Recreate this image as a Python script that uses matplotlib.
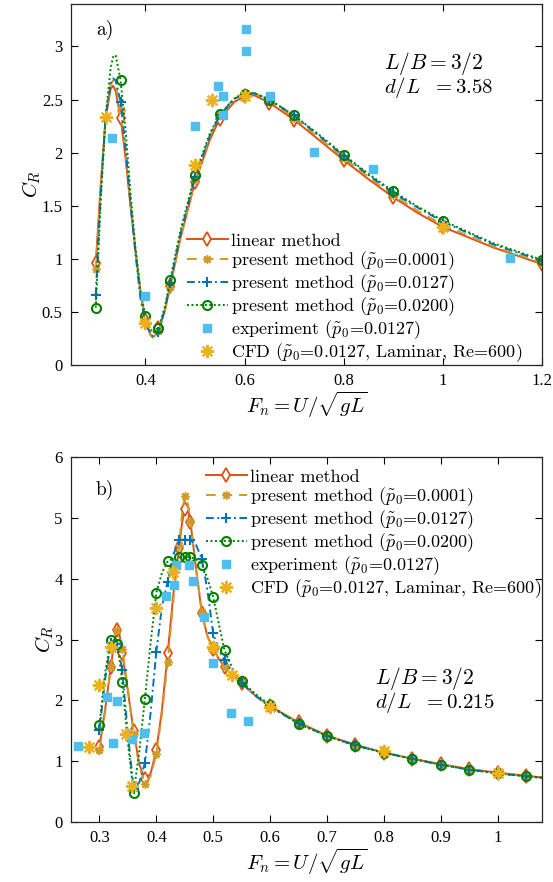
import numpy as np
import matplotlib
matplotlib.use("Agg")
import matplotlib.pyplot as plt
from matplotlib.ticker import FuncFormatter

plt.rcParams['mathtext.fontset'] = 'cm'
plt.rcParams['font.family'] = ['cmr10', 'DejaVu Serif']
plt.rcParams['axes.formatter.use_mathtext'] = True

# ---------------- panel a): d/L = 3.58 ----------------
xa = [0.30, 0.31, 0.32, 0.33, 0.335, 0.34, 0.35, 0.36, 0.37, 0.38, 0.39, 0.40,
      0.41, 0.415, 0.42, 0.425, 0.43, 0.44, 0.45, 0.47, 0.50, 0.53, 0.55, 0.58,
      0.60, 0.62, 0.65, 0.70, 0.75, 0.80, 0.85, 0.90, 0.95, 1.00, 1.10, 1.20]
a_linear = [0.96, 1.70, 2.33, 2.60, 2.63, 2.58, 2.33, 1.95, 1.50, 1.08, 0.70, 0.42,
            0.29, 0.26, 0.28, 0.35, 0.37, 0.53, 0.74, 1.18, 1.72, 2.12, 2.32, 2.48,
            2.53, 2.54, 2.47, 2.31, 2.12, 1.93, 1.75, 1.58, 1.43, 1.30, 1.11, 0.95]
a_p0001 = [0.90, 1.68, 2.35, 2.64, 2.68, 2.64, 2.40, 2.00, 1.52, 1.08, 0.68, 0.40,
           0.28, 0.26, 0.28, 0.32, 0.37, 0.52, 0.73, 1.18, 1.74, 2.15, 2.35, 2.52,
           2.56, 2.56, 2.49, 2.33, 2.14, 1.95, 1.77, 1.60, 1.45, 1.32, 1.12, 0.96]
a_p0127 = [0.66, 1.62, 2.35, 2.65, 2.70, 2.68, 2.48, 2.05, 1.52, 1.05, 0.63, 0.40,
           0.30, 0.27, 0.28, 0.31, 0.36, 0.54, 0.77, 1.22, 1.77, 2.16, 2.35, 2.51,
           2.55, 2.56, 2.50, 2.35, 2.16, 1.97, 1.79, 1.62, 1.48, 1.35, 1.14, 0.98]
a_p0200 = [0.54, 1.55, 2.35, 2.80, 2.90, 2.92, 2.68, 2.22, 1.62, 1.10, 0.70, 0.46,
           0.34, 0.31, 0.31, 0.35, 0.40, 0.56, 0.80, 1.25, 1.79, 2.18, 2.36, 2.51,
           2.55, 2.56, 2.50, 2.35, 2.17, 1.98, 1.80, 1.635, 1.49, 1.36, 1.15, 0.99]
a_marks = [0.30, 0.35, 0.40, 0.425, 0.45, 0.50, 0.55, 0.60, 0.65, 0.70, 0.80,
           0.90, 1.00, 1.20]
a_exp_x = [0.332, 0.400, 0.500, 0.546, 0.556, 0.556, 0.603, 0.603, 0.652, 0.741,
           0.859, 1.135]
a_exp_y = [2.14, 0.65, 2.25, 2.63, 2.53, 2.35, 3.16, 2.96, 2.53, 2.01, 1.85, 1.01]
a_cfd_x = [0.320, 0.400, 0.500, 0.534, 0.600, 1.000]
a_cfd_y = [2.34, 0.40, 1.88, 2.50, 2.53, 1.30]

# ---------------- panel b): d/L = 0.215 ----------------
xb = [0.30, 0.31, 0.32, 0.325, 0.33, 0.335, 0.34, 0.35, 0.36, 0.37, 0.38, 0.39,
      0.40, 0.41, 0.42, 0.43, 0.44, 0.445, 0.45, 0.455, 0.46, 0.47, 0.48, 0.49,
      0.50, 0.51, 0.52, 0.535, 0.55, 0.575, 0.60, 0.65, 0.70, 0.75, 0.80, 0.85,
      0.90, 0.95, 1.00, 1.05, 1.10]
b_linear = [1.23, 1.85, 2.55, 2.90, 3.15, 3.10, 2.78, 2.15, 1.50, 0.95, 0.70, 0.80,
            1.18, 1.85, 2.77, 3.75, 4.50, 4.90, 5.15, 5.17, 4.93, 4.15, 3.43, 3.05,
            2.85, 2.68, 2.55, 2.40, 2.28, 2.07, 1.90, 1.64, 1.42, 1.27, 1.14, 1.04,
            0.95, 0.87, 0.81, 0.76, 0.71]
b_p0001 = [1.18, 1.80, 2.55, 2.92, 3.16, 3.12, 2.85, 2.20, 1.45, 0.92, 0.63, 0.75,
           1.12, 1.78, 2.63, 3.65, 4.55, 5.05, 5.36, 5.25, 4.95, 4.15, 3.45, 3.05,
           2.85, 2.68, 2.55, 2.40, 2.28, 2.08, 1.90, 1.64, 1.42, 1.26, 1.14, 1.04,
           0.95, 0.87, 0.81, 0.76, 0.71]
b_p0127 = [1.51, 2.35, 2.95, 3.02, 2.92, 2.75, 2.50, 1.45, 0.55, 0.65, 0.97, 1.80,
           2.80, 3.55, 3.95, 4.40, 4.63, 4.64, 4.64, 4.64, 4.63, 4.55, 4.33, 3.80,
           3.10, 2.82, 2.66, 2.45, 2.28, 2.07, 1.89, 1.62, 1.42, 1.26, 1.14, 1.04,
           0.94, 0.86, 0.80, 0.75, 0.71]
b_p0200 = [1.60, 2.45, 3.00, 3.02, 2.93, 2.70, 2.30, 1.30, 0.48, 1.15, 2.03, 2.95,
           3.77, 4.10, 4.29, 4.33, 4.35, 4.36, 4.36, 4.36, 4.35, 4.32, 4.23, 4.00,
           3.70, 3.25, 2.82, 2.50, 2.31, 2.10, 1.92, 1.61, 1.415, 1.25, 1.14, 1.04,
           0.94, 0.86, 0.80, 0.75, 0.71]
b_marks = [0.30, 0.32, 0.33, 0.34, 0.36, 0.38, 0.40, 0.42, 0.44, 0.45, 0.46, 0.48,
           0.50, 0.52, 0.55, 0.60, 0.65, 0.70, 0.75, 0.80, 0.85, 0.90, 0.95, 1.00,
           1.05]
b_exp_x = [0.263, 0.314, 0.324, 0.331, 0.357, 0.379, 0.417, 0.431, 0.435, 0.458,
           0.464, 0.483, 0.499, 0.531, 0.562]
b_exp_y = [1.245, 2.06, 1.30, 1.99, 1.37, 1.46, 3.71, 3.90, 4.22, 4.22, 3.96,
           3.37, 2.62, 1.80, 1.66]
b_cfd_x = [0.281, 0.300, 0.320, 0.346, 0.357, 0.399, 0.429, 0.499, 0.533, 0.600,
           0.800, 1.000]
b_cfd_y = [1.23, 2.26, 2.87, 1.44, 0.59, 3.52, 4.11, 2.88, 2.41, 1.89, 1.17, 0.81]

labels = ['linear method',
          r'present method ($\tilde{p}_0$=0.0001)',
          r'present method ($\tilde{p}_0$=0.0127)',
          r'present method ($\tilde{p}_0$=0.0200)',
          r'experiment ($\tilde{p}_0$=0.0127)',
          r'CFD ($\tilde{p}_0$=0.0127, Laminar, Re=600)']

C_LIN = '#D95319'
C_P1 = '#D09A25'
C_P2 = '#0072BD'
C_P3 = '#008000'
C_EXP = '#4DBEEE'
C_CFD = '#EDB120'
ASTER = (8, 2, 0)

W, H = 553, 882
fig = plt.figure(figsize=(W / 100, H / 100), dpi=100)


def fig_box(l, t, r, b):
    return [l / W, 1 - b / H, (r - l) / W, (b - t) / H]


def mark_index(x, marks):
    x = np.asarray(x)
    return [int(np.argmin(np.abs(x - m))) for m in marks]


def draw_panel(ax, x, series, marks, ex, ey, cx, cy):
    idx = mark_index(x, marks)
    lin, p1, p2, p3 = series
    h = []
    h += ax.plot(x, lin, color=C_LIN, lw=1.4, marker='d', ms=7, mfc='white',
                 mew=1.3, markevery=idx)
    h += ax.plot(x, p1, color=C_P1, lw=1.4, ls=(0, (5, 3.5)), marker=ASTER, ms=6,
                 mew=1.1, markevery=idx)
    h += ax.plot(x, p2, color=C_P2, lw=1.4, ls=(0, (4, 1.8, 1, 1.8)), marker='+',
                 ms=7, mew=1.5, markevery=idx)
    h += ax.plot(x, p3, color=C_P3, lw=1.4, ls=(0, (1, 1.3)), marker='o', ms=6.5,
                 mfc='none', mew=1.5, markevery=idx)
    h += ax.plot(ex, ey, ls='none', marker='s', ms=6, color=C_EXP, mec=C_EXP)
    h += ax.plot(cx, cy, ls='none', marker=ASTER, ms=9.5, mew=1.5, color=C_CFD)
    ax.tick_params(direction='in', top=True, right=True, length=5, width=0.8,
                   labelsize=12, labelfontfamily='Liberation Serif', pad=6)
    for s in ax.spines.values():
        s.set_linewidth(0.9)
        s.set_color('#262626')
    ax.yaxis.set_major_formatter(FuncFormatter(lambda v, p: f'{v:g}'))
    ax.xaxis.set_major_formatter(FuncFormatter(lambda v, p: f'{v:g}'))
    ax.set_xlabel(r'$F_n = U/\sqrt{gL}$', fontsize=15, labelpad=0)
    ax.set_ylabel(r'$C_R$', fontsize=15, labelpad=-1)
    return h


def add_legend(ax, h, x_px, y_px):
    ax.legend(h, labels, loc='upper left', bbox_to_anchor=(x_px / W, 1 - y_px / H),
              bbox_transform=fig.transFigure, frameon=False, fontsize=13,
              handlelength=2.25, handletextpad=0.2, labelspacing=0.02,
              borderpad=0, borderaxespad=0, numpoints=1)


# panel a
ax1 = fig.add_axes(fig_box(71, 4, 542, 365))
h1 = draw_panel(ax1, xa, (a_linear, a_p0001, a_p0127, a_p0200), a_marks,
                a_exp_x, a_exp_y, a_cfd_x, a_cfd_y)
ax1.set_xlim(0.25, 1.2)
ax1.set_ylim(0, 3.4)
ax1.set_xticks([0.4, 0.6, 0.8, 1.0, 1.2])
ax1.set_yticks([0, 0.5, 1, 1.5, 2, 2.5, 3])
add_legend(ax1, h1, 187, 233)
fig.text(96 / W, 1 - 30 / H, 'a)', fontsize=14, va='center', ha='left')
ax1.text(0.664, 0.835, r'$L/B = 3/2$', transform=ax1.transAxes, fontsize=15.5,
         ha='left', va='center')
ax1.text(0.664, 0.768, r'$d/L\ \ = 3.58$', transform=ax1.transAxes, fontsize=15,
         ha='left', va='center')

# panel b
ax2 = fig.add_axes(fig_box(71, 457, 542, 822))
h2 = draw_panel(ax2, xb, (b_linear, b_p0001, b_p0127, b_p0200), b_marks,
                b_exp_x, b_exp_y, b_cfd_x, b_cfd_y)
ax2.set_xlim(0.25, 1.078)
ax2.set_ylim(0, 6)
ax2.set_xticks([0.3, 0.4, 0.5, 0.6, 0.7, 0.8, 0.9, 1.0])
ax2.set_yticks([0, 1, 2, 3, 4, 5, 6])
add_legend(ax2, h2, 206, 469)
fig.text(96 / W, 1 - 490 / H, 'b)', fontsize=14, va='center', ha='left')
ax2.text(0.645, 0.393, r'$L/B = 3/2$', transform=ax2.transAxes, fontsize=15.5,
         ha='left', va='center')
ax2.text(0.645, 0.328, r'$d/L\ \ = 0.215$', transform=ax2.transAxes, fontsize=15,
         ha='left', va='center')

fig.savefig('out.png', dpi=100)
